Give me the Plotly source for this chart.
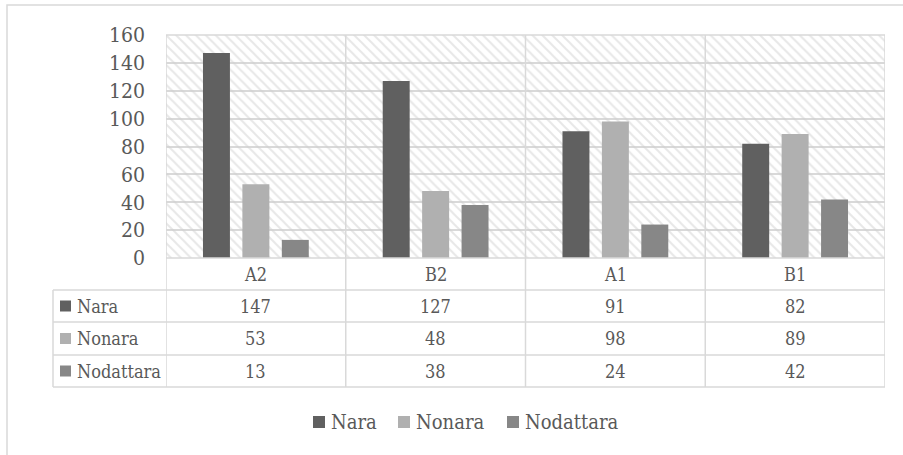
import plotly.graph_objects as go

# ---- data -------------------------------------------------------------
categories = ["A2", "B2", "A1", "B1"]
series_names = ["Nara", "Nonara", "Nodattara"]
nara = [147, 127, 91, 82]
nonara = [53, 48, 98, 89]
nodattara = [13, 38, 24, 42]
series_values = [nara, nonara, nodattara]
series_colors = ["#606060", "#b0b0b0", "#878787"]
y_ticks = [0, 20, 40, 60, 80, 100, 120, 140, 160]

# ---- geometry (pixels) -------------------------------------------------
W, H = 903, 455
PL, PR, PT, PB = 166, 885, 35, 258          # plot area box
PW, PH = PR - PL, PB - PT
TABLE_LEFT = 53
ROW_LINES = [290, 322, 355, 387]             # bottoms of the table rows
ROW_CENTERS = [274, 306, 338.5, 371]          # header, then one per series
LEGEND_Y = 422
LEGEND_KEY_X = [313, 398, 507]               # left edge of each legend key
GRID = "#d9d9d9"
TEXT = "#595959"
FONT = "DejaVu Serif Condensed"


def px2x(px):
    return (px - PL) / PW


def py2y(py):
    return (PB - py) / PH


fig = go.Figure()

# hatched plot-area background
fig.add_trace(go.Bar(
    x=[0.5], y=[y_ticks[-1]], width=[1], xaxis="x", yaxis="y",
    marker=dict(color="rgba(0,0,0,0)", line=dict(width=0),
                pattern=dict(shape="\\", fgcolor="#cfcfcf", bgcolor="rgba(0,0,0,0)",
                             size=7, solidity=0.28, fillmode="overlay")),
    showlegend=False, hoverinfo="skip",
))

# data bars
for name, vals, col in zip(series_names, series_values, series_colors):
    fig.add_trace(go.Bar(
        x=categories, y=vals, name=name, xaxis="x2", yaxis="y",
        marker=dict(color=col, line=dict(width=0)), showlegend=False,
    ))

shapes = []
line = dict(color=GRID, width=1.5)

# outer chart frame
shapes.append(dict(type="rect", xref="paper", yref="paper",
                   x0=px2x(7), x1=px2x(W + 10), y0=py2y(H + 10), y1=py2y(5),
                   line=line, fillcolor="rgba(0,0,0,0)", layer="below"))
# plot top border and y=0 line
for py in (PT, PB):
    shapes.append(dict(type="line", xref="paper", yref="paper",
                       x0=0, x1=1, y0=py2y(py), y1=py2y(py), line=line))
# column dividers running from plot top through the table
for k in range(len(categories) + 1):
    shapes.append(dict(type="line", xref="x2", yref="paper",
                       x0=k - 0.5, x1=k - 0.5, y0=1, y1=py2y(ROW_LINES[-1]), line=line))
# table row lines
for py in ROW_LINES:
    shapes.append(dict(type="line", xref="paper", yref="paper",
                       x0=px2x(TABLE_LEFT), x1=1, y0=py2y(py), y1=py2y(py), line=line))
shapes.append(dict(type="line", xref="paper", yref="paper",
                   x0=px2x(TABLE_LEFT), x1=px2x(TABLE_LEFT),
                   y0=py2y(ROW_LINES[0]), y1=py2y(ROW_LINES[-1]), line=line))
# series keys in the table's first column
for cy, col in zip(ROW_CENTERS[1:], series_colors):
    shapes.append(dict(type="rect", xref="paper", yref="paper",
                       x0=px2x(60), x1=px2x(71), y0=py2y(cy + 5.5), y1=py2y(cy - 5.5),
                       fillcolor=col, line=dict(width=0)))

annotations = []
tfont = dict(family=FONT, size=18, color=TEXT)
# category header row
for c in categories:
    annotations.append(dict(x=c, xref="x2", y=py2y(ROW_CENTERS[0]), yref="paper",
                            text=c, showarrow=False, font=tfont,
                            xanchor="center", yanchor="middle"))
# series rows
for r, (name, vals) in enumerate(zip(series_names, series_values)):
    cy = py2y(ROW_CENTERS[r + 1])
    annotations.append(dict(x=px2x(75), xref="paper", y=cy, yref="paper",
                            text=name, showarrow=False, font=tfont,
                            xanchor="left", yanchor="middle"))
    for c, v in zip(categories, vals):
        annotations.append(dict(x=c, xref="x2", y=cy, yref="paper",
                                text=str(v), showarrow=False, font=tfont,
                                xanchor="center", yanchor="middle"))

# legend below the table
lfont = dict(family=FONT, size=20, color=TEXT)
for kx, name, col in zip(LEGEND_KEY_X, series_names, series_colors):
    shapes.append(dict(type="rect", xref="paper", yref="paper",
                       x0=px2x(kx), x1=px2x(kx + 12),
                       y0=py2y(LEGEND_Y + 6), y1=py2y(LEGEND_Y - 6),
                       fillcolor=col, line=dict(width=0)))
    annotations.append(dict(x=px2x(kx + 16), xref="paper", y=py2y(LEGEND_Y), yref="paper",
                            text=name, showarrow=False, font=lfont,
                            xanchor="left", yanchor="middle"))

fig.update_layout(
    width=W, height=H,
    margin=dict(l=PL, r=W - PR, t=PT, b=H - PB, pad=0),
    paper_bgcolor="white", plot_bgcolor="white",
    barmode="group", bargap=0.342, bargroupgap=0.316,
    font=dict(family=FONT, color=TEXT),
    xaxis=dict(range=[0, 1], visible=False, fixedrange=True),
    xaxis2=dict(type="category", categoryorder="array", categoryarray=categories,
                range=[-0.5, len(categories) - 0.5], overlaying="x",
                showticklabels=False, showgrid=False, zeroline=False, showline=False),
    yaxis=dict(range=[y_ticks[0], y_ticks[-1]], tickvals=y_ticks,
               showgrid=True, gridcolor=GRID, gridwidth=1.5, zeroline=False,
               showline=False, ticks="", ticklabelstandoff=20,
               tickfont=dict(family=FONT, size=21, color=TEXT)),
    showlegend=False,
    shapes=shapes, annotations=annotations,
)

fig.write_html("out.html")
